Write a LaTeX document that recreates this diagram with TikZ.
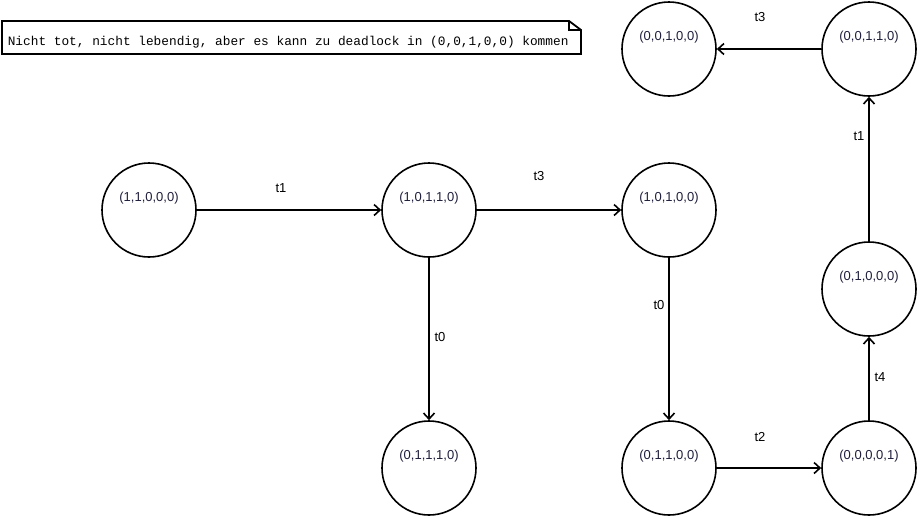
\documentclass[tikz,border=0pt]{standalone}
\usepackage{fontspec}
\setmainfont{Liberation Sans}
\setmonofont{Liberation Mono}
\usepackage{xcolor}
\usepackage{tikz}
\usetikzlibrary{arrows.meta}

\definecolor{statetext}{RGB}{30,30,60}

\begin{document}
\begin{tikzpicture}[
  x=1pt,y=-1pt,
  state/.style={circle, draw, line width=1.6pt, minimum size=94pt,
    label={[yshift=12pt, text=statetext, font=\fontsize{13}{15}\selectfont]center:#1}},
  trans/.style={font=\fontsize{13}{15}\selectfont},
  ->,>={Straight Barb[length=6pt,width=11pt]},line width=1.6pt
]
\useasboundingbox (0,0) rectangle (920,520);

% Kommentar
\draw[-,line width=1.8pt] (2,21) -- (569,21) -- (581,30) -- (581,54) -- (2,54) -- cycle;
\draw[-,line width=1.2pt] (569,21) -- (569,30) -- (581,30);
\node[anchor=west, inner sep=0pt, font=\ttfamily\fontsize{12.8}{14}\selectfont] (note) at (7,42)
  {Nicht tot, nicht lebendig, aber es kann zu deadlock in (0,0,1,0,0) kommen};

% Zustaende
\node[state={(1,1,0,0,0)}] (s11000) at (149,210) {};
\node[state={(1,0,1,1,0)}] (s10110) at (429,210) {};
\node[state={(1,0,1,0,0)}] (s10100) at (669,210) {};
\node[state={(0,1,1,1,0)}] (s01110) at (429,468) {};
\node[state={(0,1,1,0,0)}] (s01100) at (669,468) {};
\node[state={(0,0,0,0,1)}] (s00001) at (869,468) {};
\node[state={(0,1,0,0,0)}] (s01000) at (869,289) {};
\node[state={(0,0,1,1,0)}] (s00110) at (869,49) {};
\node[state={(0,0,1,0,0)}] (s00100) at (669,49) {};

% Transitionen
\node[trans] (t1a) at (281,188) {t1};
\node[trans] (t3a) at (539,176) {t3};
\node[trans] (t0a) at (440,337) {t0};
\node[trans] (t0b) at (659,305) {t0};
\node[trans] (t2a) at (760,437) {t2};
\node[trans] (t4a) at (880,377) {t4};
\node[trans] (t1b) at (859,136) {t1};
\node[trans] (t3b) at (760,17) {t3};

\draw (s11000) -- (s10110);
\draw (s10110) -- (s10100);
\draw (s10110) -- (s01110);
\draw (s10100) -- (s01100);
\draw (s01100) -- (s00001);
\draw (s00001) -- (s01000);
\draw (s01000) -- (s00110);
\draw (s00110) -- (s00100);
\end{tikzpicture}
\end{document}
